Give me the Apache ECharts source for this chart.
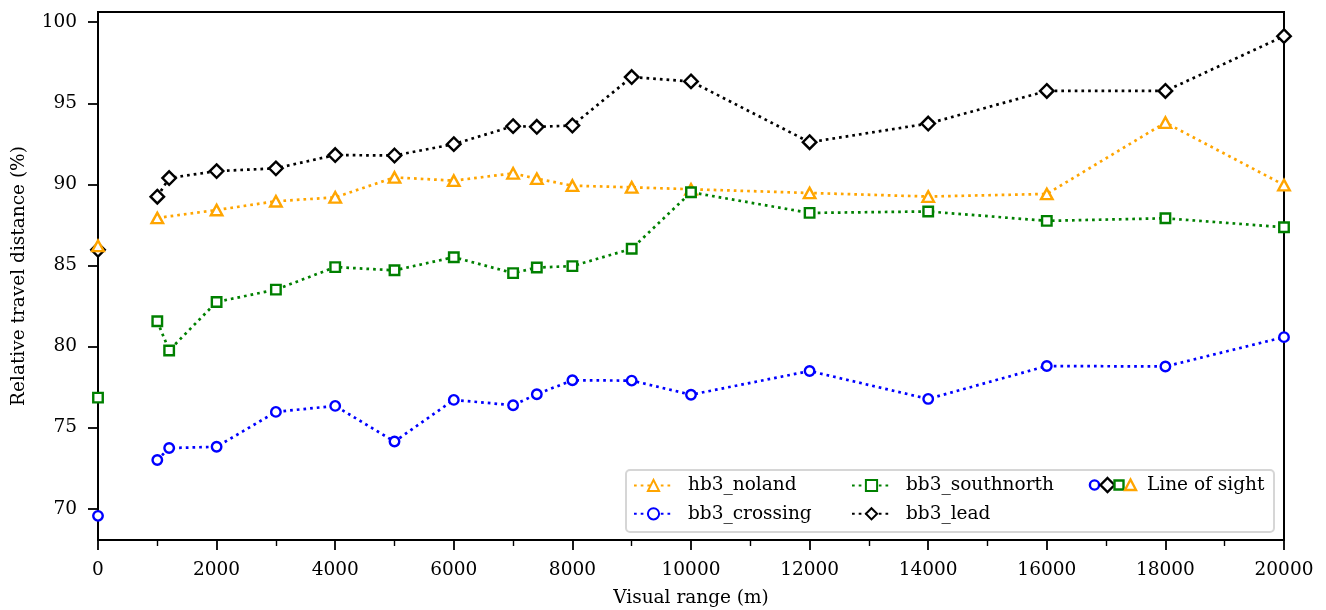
<!DOCTYPE html>
<html>
<head>
<meta charset="utf-8">
<script src="https://cdn.jsdelivr.net/npm/echarts@6/dist/echarts.min.js"></script>
<style>
html,body{margin:0;padding:0;background:#fff;}
#chart{width:1326px;height:610px;}
</style>
</head>
<body>
<div id="chart"></div>
<script>
// ---- data ----
var xNoland = [1000,2000,3000,4000,5000,6000,7000,7400,8000,9000,10000,12000,14000,16000,18000,20000];
var yNoland = [87.93,88.42,88.96,89.2,90.43,90.23,90.68,90.35,89.92,89.82,89.7,89.47,89.25,89.41,93.81,89.96];

var xBB = [1000,1200,2000,3000,4000,5000,6000,7000,7400,8000,9000,10000,12000,14000,16000,18000,20000];
var yCrossing = [73.0,73.74,73.82,75.97,76.34,74.14,76.71,76.38,77.06,77.92,77.9,77.03,78.49,76.77,78.8,78.77,80.58];
var ySouthnorth = [81.56,79.76,82.75,83.51,84.9,84.7,85.51,84.53,84.87,84.96,86.03,89.51,88.24,88.33,87.75,87.91,87.36];
var yLead = [89.24,90.39,90.82,90.99,91.81,91.78,92.48,93.59,93.55,93.63,96.62,96.35,92.6,93.75,95.76,95.76,99.14];

var losX = 0;
var losCrossing = 69.56;
var losLead = 85.97;
var losSouthnorth = 76.85;
var losNoland = 86.21;

var yTicks = [70,75,80,85,90,95,100];
var names = ['hb3_noland','bb3_crossing','bb3_southnorth','bb3_lead'];
var losName = 'Line of sight';

// ---- build ----
function pairs(xs, ys){ return xs.map(function(x,i){ return [x, ys[i]]; }); }
var FONT = 'DejaVu Serif';
var FS = 18.5;
var C = {orange:'#ffa500', blue:'#0000ff', green:'#008000', black:'#000000'};
var dash = [2.7, 4];
var BW = 2.4;

function lineSeries(name, data, color, symbol, size){
  return {
    name: name, type:'line', data: data, clip:false,
    symbol: symbol, symbolSize: size, showAllSymbol:true,
    lineStyle:{color:color, width:2.7, type:dash, cap:'butt'},
    itemStyle:{color:'#ffffff', borderColor:color, borderWidth:BW},
    emphasis:{disabled:true}, animation:false
  };
}
function losSeries(val, color, symbol, size){
  return {
    name: losName, type:'scatter', data:[[losX, val]], clip:false,
    symbol: symbol, symbolSize: size,
    itemStyle:{color:'#ffffff', borderColor:color, borderWidth:BW, opacity:1},
    emphasis:{disabled:true}, animation:false
  };
}

var chart = echarts.init(document.getElementById('chart'), null, {renderer:'canvas'});
var legendText = {fontFamily:FONT, fontSize:FS, color:'#000', lineHeight:18, padding:[0,0,0,10]};
var option = {
  animation:false,
  backgroundColor:'#ffffff',
  grid:{left:98, right:42, top:12, bottom:70, outerBoundsMode:'none', containLabel:false,
        show:true, borderColor:'#000', borderWidth:2, backgroundColor:'transparent'},
  xAxis:{
    type:'value', min:0, max:20000, interval:2000,
    name:'Visual range (m)', nameLocation:'middle', nameGap:49,
    nameTextStyle:{fontFamily:FONT, fontSize:FS, color:'#000'},
    axisLine:{show:true, lineStyle:{color:'#000', width:2}},
    axisTick:{show:true, length:10, lineStyle:{color:'#000', width:1.8}},
    minorTick:{show:true, splitNumber:2, length:6, lineStyle:{color:'#000', width:1.4}},
    axisLabel:{fontFamily:FONT, fontSize:FS, color:'#000', margin:21, formatter:function(v){ return String(v); }},
    splitLine:{show:false}, minorSplitLine:{show:false}
  },
  yAxis:{
    type:'value', min:68.07, max:100.63,
    name:'Relative travel distance (%)', nameLocation:'middle', nameGap:69, nameRotate:90,
    nameTextStyle:{fontFamily:FONT, fontSize:FS, color:'#000'},
    axisLine:{show:true, lineStyle:{color:'#000', width:2}},
    axisTick:{show:true, length:10, lineStyle:{color:'#000', width:1.8}, customValues:yTicks},
    axisLabel:{fontFamily:FONT, fontSize:FS, color:'#000', margin:21, customValues:yTicks},
    splitLine:{show:false}
  },
  legend:[
    {orient:'vertical', left:633, top:476, padding:0, itemWidth:39, itemHeight:14, itemGap:9.3,
     data:[names[0], names[1]], textStyle:legendText, selectedMode:false},
    {orient:'vertical', left:851, top:476, padding:0, itemWidth:39, itemHeight:14, itemGap:9.3,
     data:[names[2], names[3]], textStyle:legendText, selectedMode:false}
  ],
  graphic:[
    {type:'rect', z:0, shape:{x:626, y:470, width:648, height:62, r:4},
     style:{fill:'rgba(255,255,255,0.8)', stroke:'#d6d6d6', lineWidth:2}},
    {type:'circle', z:10, shape:{cx:1094.5, cy:485, r:4.6}, style:{fill:'#fff', stroke:C.blue, lineWidth:BW}},
    {type:'polygon', z:10, shape:{points:[[1107.5,478],[1114.5,485],[1107.5,492],[1100.5,485]]}, style:{fill:'#fff', stroke:C.black, lineWidth:BW}},
    {type:'rect', z:10, shape:{x:1114.5, y:480.5, width:9, height:9}, style:{fill:'#fff', stroke:C.green, lineWidth:BW}},
    {type:'polygon', z:10, shape:{points:[[1130.5,479.5],[1136,490],[1125,490]]}, style:{fill:'#fff', stroke:C.orange, lineWidth:BW}},
    {type:'text', z:10, x:1147, y:485, style:{text:losName, fontFamily:FONT, fontSize:FS, fill:'#000', verticalAlign:'middle', align:'left'}}
  ],
  series:[
    lineSeries(names[0], pairs(xNoland, yNoland), C.orange, 'triangle', [11.5,10.5]),
    lineSeries(names[1], pairs(xBB, yCrossing), C.blue, 'circle', 9.5),
    lineSeries(names[2], pairs(xBB, ySouthnorth), C.green, 'rect', 9.5),
    lineSeries(names[3], pairs(xBB, yLead), C.black, 'diamond', [13.5,13.5]),
    losSeries(losCrossing, C.blue, 'circle', 9.5),
    losSeries(losLead, C.black, 'diamond', [13.5,13.5]),
    losSeries(losSouthnorth, C.green, 'rect', 9.5),
    losSeries(losNoland, C.orange, 'triangle', [11.5,10.5])
  ]
};
chart.setOption(option);
</script>
</body>
</html>
